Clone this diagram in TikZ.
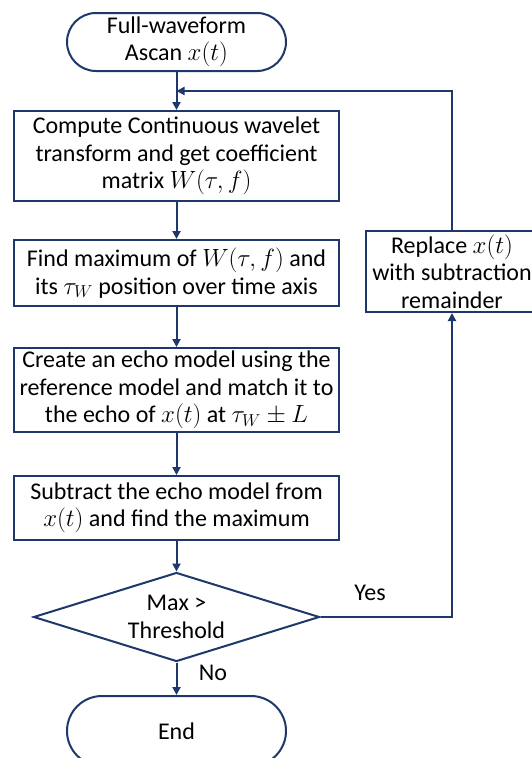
\documentclass[tikz,border=0pt]{standalone}
\usepackage{fontspec}
\setmainfont{Carlito}
\usetikzlibrary{shapes.geometric,arrows.meta}
\definecolor{navy}{RGB}{31,56,108}
\tikzset{
  every node/.style={font=\fontsize{24}{27.5}\selectfont, text=black, align=center},
  procbox/.style={draw=navy, line width=2pt, rectangle, fill=white, minimum width=325pt, inner sep=0pt},
  termbox/.style={draw=navy, line width=2pt, rectangle, fill=white, minimum width=219pt, inner sep=0pt},
  decbox/.style={draw=navy, line width=2pt, diamond, aspect=3.2, fill=white, minimum width=286pt, minimum height=89pt, inner sep=0pt},
  arr/.style={draw=navy, line width=2pt, -{Triangle[length=8pt,width=8pt]}},
  lbl/.style={inner sep=0pt}
}
\begin{document}
\begin{tikzpicture}[x=1pt,y=-1pt]
\useasboundingbox[fill=white] (0,0) rectangle (531,758);
\node[termbox, minimum height=58pt, rounded corners=29pt] (start) at (176.5,42) {Full-waveform\\Ascan $x(t)$};
\node[procbox, minimum height=90pt] (b1) at (176.5,156) {Compute Continuous wavelet\\transform and get coefficient\\matrix $W(\tau,f)$};
\node[procbox, minimum height=66pt] (b2) at (176.5,273) {Find maximum of $W(\tau,f)$ and\\its $\tau_W$ position over time axis};
\node[procbox, minimum height=84pt] (b3) at (176.5,390) {Create an echo model using the\\reference model and match it to\\the echo of $x(t)$ at $\tau_W\pm L$};
\node[procbox, minimum height=64pt] (b4) at (176.5,508) {Subtract the echo model from\\$x(t)$ and find the maximum};
\node[decbox] (dec) at (176.5,617) {Max >\\Threshold};
\node[termbox, minimum height=70pt, rounded corners=35pt] (end) at (176.5,731) {End};
\node[draw=navy, line width=2pt, rectangle, fill=white, minimum width=172pt, minimum height=81pt, inner sep=0pt] (rep) at (452,271.5) {Replace $x(t)$\\with subtraction\\remainder};
\coordinate (j) at (176.5,91);
\node[lbl] (yes) at (370,593) {Yes};
\node[lbl] (no) at (213,673) {No};
\draw[arr] (start.south) -- (b1.north);
\draw[arr] (b1.south) -- (b2.north);
\draw[arr] (b2.south) -- (b3.north);
\draw[arr] (b3.south) -- (b4.north);
\draw[arr] (b4.south) -- (dec.north);
\draw[arr] (dec.south) -- (end.north);
\draw[arr] (dec.east) -| (rep.south);
\draw[arr] (rep.north) |- (j);
\end{tikzpicture}
\end{document}
